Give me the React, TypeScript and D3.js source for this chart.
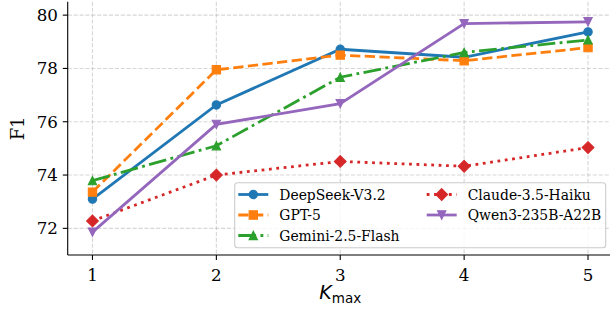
import * as d3 from 'd3';

// chart values
const kValues = [1, 2, 3, 4, 5];
const yTicks = [72, 74, 76, 78, 80];

const deepseek = [73.1, 76.63, 78.72, 78.42, 79.37];
const gpt5 = [73.36, 77.95, 78.5, 78.29, 78.78];
const gemini = [73.79, 75.1, 77.67, 78.6, 79.07];
const claude = [72.28, 74.0, 74.51, 74.33, 75.03];
const qwen = [71.86, 75.9, 76.68, 79.68, 79.75];

const seriesNames = ['DeepSeek-V3.2', 'GPT-5', 'Gemini-2.5-Flash', 'Claude-3.5-Haiku', 'Qwen3-235B-A22B'];
const seriesValues = [deepseek, gpt5, gemini, claude, qwen];
const colors = ['#1f77b4', '#ff7f0e', '#2ca02c', '#d62728', '#9467bd'];
const dashes = ['', '10.3,4.4', '17.8,4.4,2.8,4.4', '2.8,4.6', ''];
const markers = ['circle', 'square', 'triangle', 'diamond', 'triangleDown'];

const width = 610;
const height = 315;
const left = 67.7;
const right = 612.8;
const top = 1.8;
const bottom = 255;

const serif = '"DejaVu Serif", serif';
const sans = '"DejaVu Sans", sans-serif';

const markerPath = (kind: string, cx: number, cy: number) => {
  const s = 8.3;
  const h = s / 2;
  if (kind === 'circle') {
    const r = 4.2;
    return `M${cx - r},${cy}a${r},${r} 0 1,0 ${2 * r},0a${r},${r} 0 1,0 ${-2 * r},0Z`;
  }
  if (kind === 'square') return `M${cx - h},${cy - h}h${s}v${s}h${-s}Z`;
  if (kind === 'triangle') return `M${cx},${cy - h}L${cx + h},${cy + h}L${cx - h},${cy + h}Z`;
  if (kind === 'triangleDown') return `M${cx},${cy + h}L${cx + h},${cy - h}L${cx - h},${cy - h}Z`;
  const d = s * 0.707;
  return `M${cx},${cy - d}L${cx + d},${cy}L${cx},${cy + d}L${cx - d},${cy}Z`;
};

export default function App() {
  const x = d3.scaleLinear().domain([0.8, 5.2]).range([left, right]);
  const y = d3.scaleLinear().domain([71, 80.5]).range([bottom, top]);

  const line = d3.line<number>()
    .x((v, i) => x(kValues[i]))
    .y(v => y(v));

  // legend layout
  const legRows = [194.5, 215, 235.5];
  const legCols = [238.3, 426.7];

  return (
    <svg width={width} height={height} style={{ position: 'absolute', left: 0, top: 0, background: '#fff' }}>
      {/* grid */}
      <g stroke="#b0b0b0" strokeOpacity={0.5} strokeWidth={1.1} strokeDasharray="4.1,1.8">
        {kValues.map(k => (
          <line key={'gx' + k} x1={x(k)} x2={x(k)} y1={top} y2={bottom} />
        ))}
        {yTicks.map(t => (
          <line key={'gy' + t} x1={left} x2={right} y1={y(t)} y2={y(t)} />
        ))}
      </g>

      {/* series */}
      {seriesValues.map((vals, si) => (
        <g key={seriesNames[si]}>
          <path d={line(vals) || ''} fill="none" stroke={colors[si]} strokeWidth={2.78}
            strokeDasharray={dashes[si] || undefined} />
          {vals.map((v, i) => (
            <path key={i} d={markerPath(markers[si], x(kValues[i]), y(v))}
              fill={colors[si]} stroke={colors[si]} strokeWidth={1.1} />
          ))}
        </g>
      ))}

      {/* spines */}
      <line x1={left} x2={left} y1={top} y2={bottom} stroke="#000" strokeWidth={1.1} />
      <line x1={left} x2={right} y1={bottom} y2={bottom} stroke="#000" strokeWidth={1.1} />

      {/* y axis */}
      {yTicks.map(t => (
        <g key={'yt' + t}>
          <line x1={left - 4.9} x2={left} y1={y(t)} y2={y(t)} stroke="#000" strokeWidth={1.1} />
          <text x={left - 9.8} y={y(t)} dy="0.36em" textAnchor="end" fontFamily={serif} fontSize={16.7}>{t}</text>
        </g>
      ))}

      {/* x axis */}
      {kValues.map(k => (
        <g key={'xt' + k}>
          <line x1={x(k)} x2={x(k)} y1={bottom} y2={bottom + 4.9} stroke="#000" strokeWidth={1.1} />
          <text x={x(k)} y={281} textAnchor="middle" fontFamily={serif} fontSize={16.7}>{k}</text>
        </g>
      ))}

      {/* axis labels */}
      <text transform={`translate(24,${(top + bottom) / 2}) rotate(-90)`} textAnchor="middle"
        fontFamily={serif} fontSize={18}>F1</text>
      <text x={(left + right) / 2} y={299} textAnchor="middle" fontFamily={sans} fontSize={19}>
        <tspan fontStyle="italic">K</tspan>
        <tspan fontSize={13.5} dy={4}>max</tspan>
      </text>

      {/* legend */}
      <rect x={234.7} y={182.7} width={371} height={65} rx={3} fill="#fff" fillOpacity={0.8}
        stroke="#cccccc" strokeWidth={1.1} />
      {seriesNames.map((name, si) => {
        const col = si < 3 ? 0 : 1;
        const row = si < 3 ? si : si - 3;
        const lx = legCols[col];
        const ly = legRows[row];
        return (
          <g key={'leg' + name}>
            <line x1={lx} x2={lx + 30} y1={ly} y2={ly} stroke={colors[si]} strokeWidth={2.78}
              strokeDasharray={dashes[si] || undefined} />
            <path d={markerPath(markers[si], lx + 15, ly)} fill={colors[si]} stroke={colors[si]} strokeWidth={1.1} />
            <text x={lx + 41} y={ly} dy="0.36em" fontFamily={serif} fontSize={13.9}>{name}</text>
          </g>
        );
      })}
    </svg>
  );
}
